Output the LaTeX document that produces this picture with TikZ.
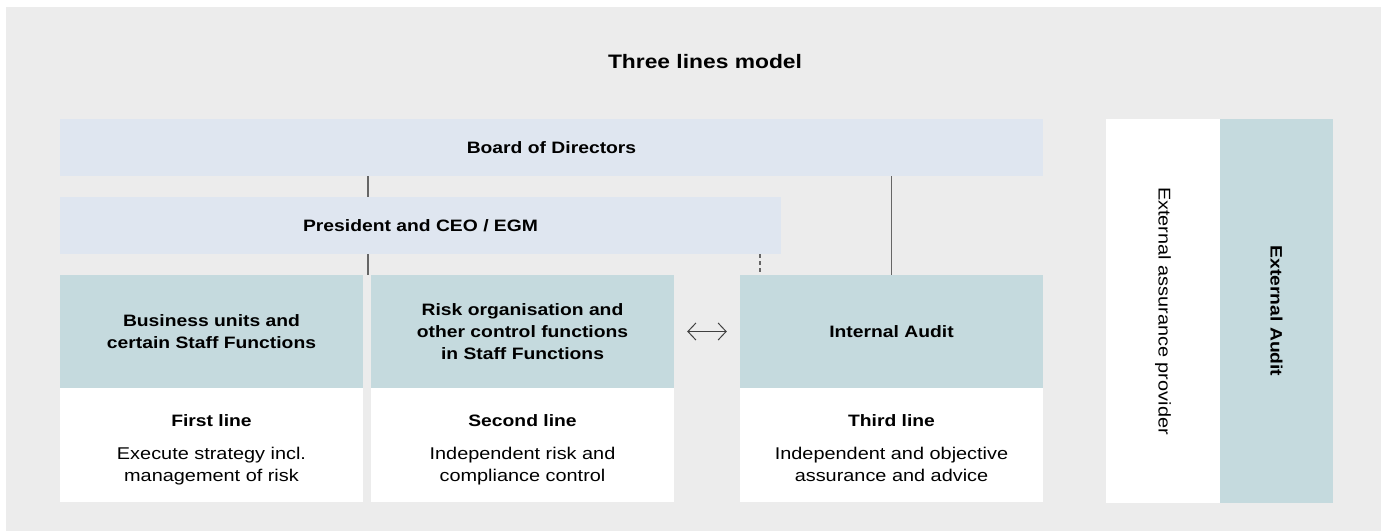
\documentclass[tikz,border=0pt]{standalone}
\usepackage{fontspec}
\setmainfont{Liberation Sans}[FakeStretch=1.17]
\usetikzlibrary{arrows.meta}
\definecolor{bggray}{HTML}{ECECEC}
\definecolor{boardblue}{HTML}{DFE6F0}
\definecolor{tealbox}{HTML}{C5DADE}
\definecolor{linegray}{HTML}{666666}
\begin{document}
\begin{tikzpicture}[x=1pt, y=-1pt,
  bar/.style={fill=boardblue, inner sep=0pt, minimum height=57pt, font=\bfseries\fontsize{16.5}{20}\selectfont},
  unitbox/.style={fill=tealbox, inner sep=0pt, minimum width=\boxw, minimum height=113pt, align=center, font=\bfseries\fontsize{16.5}{22}\selectfont},
  linebox/.style={fill=white, inner sep=0pt, minimum width=\boxw, minimum height=114pt},
  linehead/.style={inner sep=0pt, font=\bfseries\fontsize{16.5}{20}\selectfont},
  linetext/.style={inner sep=0pt, align=center, font=\fontsize{17}{22}\selectfont},
  sidebox/.style={inner sep=0pt, minimum width=#1, minimum height=384pt},
  conn/.style={draw=linegray, line width=1.3pt},
  biarrow/.style={draw=black!75, line width=1pt, {Straight Barb[length=8pt,width=17pt]}-{Straight Barb[length=8pt,width=17pt]}, shorten <=13pt, shorten >=13pt}]
% Parameters
\def\boxw{303pt}
% Background
\useasboundingbox (0,0) rectangle (1381,531);
\fill[white] (0,0) rectangle (1381,531);
\fill[bggray] (6,7) rectangle (1381,531);
% Title
\node[font=\bfseries\fontsize{19.5}{22}\selectfont] (title) at (705,62) {Three lines model};
% Governing bars
\node[bar, minimum width=983pt] (board) at (551.5,147.5) {Board of Directors};
\node[bar, minimum width=721pt] (ceo) at (420.5,225.5) {President and CEO / EGM};
% The three lines (upper part)
\node[unitbox] (bu) at (211.5,331.5) {Business units and\\certain Staff Functions};
\node[unitbox] (risk) at (522.5,331.5) {Risk organisation and\\other control functions\\in Staff Functions};
\node[unitbox] (ia) at (891.5,331.5) {Internal Audit};
% The three lines (lower part)
\node[linebox] (first) at (211.5,445) {};
\node[linebox] (second) at (522.5,445) {};
\node[linebox] (third) at (891.5,445) {};
\node[linehead] (firsthead) at (211.5,421) {First line};
\node[linehead] (secondhead) at (522.5,421) {Second line};
\node[linehead] (thirdhead) at (891.5,421) {Third line};
\node[linetext] (firsttext) at (211.5,466) {\strut Execute strategy incl.\\management of risk\strut};
\node[linetext] (secondtext) at (522.5,466) {\strut Independent risk and\\compliance control\strut};
\node[linetext] (thirdtext) at (891.5,466) {\strut Independent and objective\\assurance and advice\strut};
% External parties
\node[sidebox=114pt, fill=white] (provider) at (1163,311) {};
\node[sidebox=113pt, fill=tealbox] (extaudit) at (1276.5,311) {};
\node[rotate=-90, font=\fontsize{17}{20}\selectfont] (providerlabel) at (provider.center) {External assurance provider};
\node[rotate=-90, font=\bfseries\fontsize{16.5}{20}\selectfont] (extauditlabel) at (extaudit.center) {External Audit};
% Reporting lines
\coordinate (gapx) at (368,0);
\coordinate (dashx) at (760,0);
\draw[conn] (board.south -| gapx) -- (ceo.north -| gapx);
\draw[conn] (ceo.south -| gapx) -- (bu.north -| gapx);
\draw[conn] (board.south -| ia) -- (ia.north);
\draw[conn, dash pattern=on 4pt off 3pt] (ceo.south -| dashx) -- (ia.north -| dashx);
\draw[biarrow] (risk.east) -- (ia.west);
\end{tikzpicture}
\end{document}
